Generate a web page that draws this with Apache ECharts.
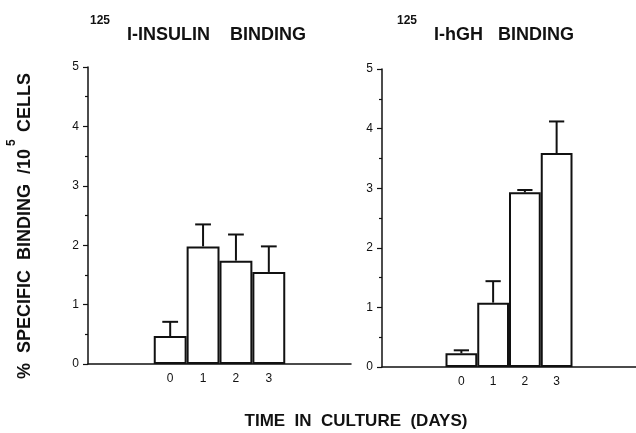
<!DOCTYPE html>
<html>
<head>
<meta charset="utf-8">
<script src="https://cdn.jsdelivr.net/npm/echarts@6/dist/echarts.min.js"></script>
<style>
  html, body { margin: 0; padding: 0; background: #fff; }
  #main { width: 636px; height: 433px; }
</style>
</head>
<body>
<div id="main"></div>
<script>
// days in culture, plus empty slots either side of the bars
var days = ['0', '1', '2', '3'];
var slots = ['pre2', 'pre1', '0', '1', '2', '3', 'post1', 'post2'];

// % specific binding / 10^5 cells (mean and top of error bar)
var insulinMean = [0.47, 1.98, 1.74, 1.55];
var insulinTop = [0.71, 2.35, 2.18, 1.98];
var hghMean = [0.23, 1.08, 2.93, 3.59];
var hghTop = [0.28, 1.44, 2.97, 4.12];

var yTicks = [0, 1, 2, 3, 4, 5];

var FONT = 'Liberation Sans';
var INK = '#111';

var chart = echarts.init(document.getElementById('main'));

function barData(vals) {
    return vals.map(function (v, i) { return [slots.indexOf(days[i]), v]; });
}
function errData(mean, top) {
    return mean.map(function (v, i) { return [slots.indexOf(days[i]), v, top[i]]; });
}

// upward-only error bar with a cap
function renderErr(params, api) {
    var x = api.value(0);
    var p0 = api.coord([x, api.value(1)]);
    var p1 = api.coord([x, api.value(2)]);
    var half = api.size([1, 0])[0] * 0.24;
    var st = { stroke: INK, lineWidth: 2 };
    return {
        type: 'group',
        children: [
            { type: 'line', shape: { x1: p0[0], y1: p0[1], x2: p1[0], y2: p1[1] }, style: st },
            { type: 'line', shape: { x1: p1[0] - half, y1: p1[1], x2: p1[0] + half, y2: p1[1] }, style: st }
        ]
    };
}

function xAxis(idx) {
    return {
        type: 'category',
        gridIndex: idx,
        data: slots,
        boundaryGap: true,
        axisLine: { lineStyle: { color: INK, width: 1.5 } },
        axisTick: { show: false },
        axisLabel: {
            color: INK, fontFamily: FONT, fontSize: 12, margin: 9,
            interval: 0,
            formatter: function (v) { return days.indexOf(v) >= 0 ? v : ''; }
        },
        splitLine: { show: false }
    };
}

function yAxis(idx) {
    return {
        type: 'value',
        gridIndex: idx,
        min: yTicks[0],
        max: yTicks[yTicks.length - 1],
        interval: 1,
        axisLine: { show: true, lineStyle: { color: INK, width: 1.5 } },
        axisTick: { show: true, length: 5, lineStyle: { color: INK, width: 1.2 } },
        minorTick: { show: true, splitNumber: 2, length: 3, lineStyle: { color: INK, width: 1.2 } },
        axisLabel: { color: INK, fontFamily: FONT, fontSize: 12, margin: 9 },
        splitLine: { show: false }
    };
}

var barStyle = { color: '#fff', borderColor: INK, borderWidth: 2 };

var option = {
    backgroundColor: '#fff',
    animation: false,
    grid: [
        { left: 88, top: 67, width: 263, height: 297 },
        { left: 382, top: 69, width: 262, height: 298 }
    ],
    xAxis: [xAxis(0), xAxis(1)],
    yAxis: [yAxis(0), yAxis(1)],
    series: [
        {
            type: 'bar', xAxisIndex: 0, yAxisIndex: 0,
            data: barData(insulinMean),
            barCategoryGap: 0, itemStyle: barStyle, z: 2
        },
        {
            type: 'custom', xAxisIndex: 0, yAxisIndex: 0,
            data: errData(insulinMean, insulinTop),
            renderItem: renderErr, z: 3
        },
        {
            type: 'bar', xAxisIndex: 1, yAxisIndex: 1,
            data: barData(hghMean),
            barCategoryGap: 0, itemStyle: barStyle, z: 2
        },
        {
            type: 'custom', xAxisIndex: 1, yAxisIndex: 1,
            data: errData(hghMean, hghTop),
            renderItem: renderErr, z: 3
        }
    ],
    graphic: [
        // panel titles
        { type: 'text', x: 90, y: 21, style: { text: '125', font: 'bold 12px ' + FONT, fill: INK, verticalAlign: 'middle' } },
        { type: 'text', x: 127, y: 35, style: { text: 'I-INSULIN    BINDING', font: 'bold 18px ' + FONT, fill: INK, verticalAlign: 'middle' } },
        { type: 'text', x: 397, y: 21, style: { text: '125', font: 'bold 12px ' + FONT, fill: INK, verticalAlign: 'middle' } },
        { type: 'text', x: 434, y: 35, style: { text: 'I-hGH   BINDING', font: 'bold 18px ' + FONT, fill: INK, verticalAlign: 'middle' } },
        // y axis title
        {
            type: 'text', x: 25, y: 379, rotation: Math.PI / 2,
            style: { text: '%  SPECIFIC  BINDING  /10', font: 'bold 18px ' + FONT, fill: INK, align: 'left', verticalAlign: 'middle' }
        },
        {
            type: 'text', x: 12, y: 146, rotation: Math.PI / 2,
            style: { text: '5', font: 'bold 12px ' + FONT, fill: INK, align: 'left', verticalAlign: 'middle' }
        },
        {
            type: 'text', x: 25, y: 132, rotation: Math.PI / 2,
            style: { text: 'CELLS', font: 'bold 18px ' + FONT, fill: INK, align: 'left', verticalAlign: 'middle' }
        },
        // x axis title
        {
            type: 'text', x: 356, y: 421,
            style: { text: 'TIME  IN  CULTURE  (DAYS)', font: 'bold 17px ' + FONT, fill: INK, align: 'center', verticalAlign: 'middle' }
        }
    ]
};

chart.setOption(option);
</script>
</body>
</html>
